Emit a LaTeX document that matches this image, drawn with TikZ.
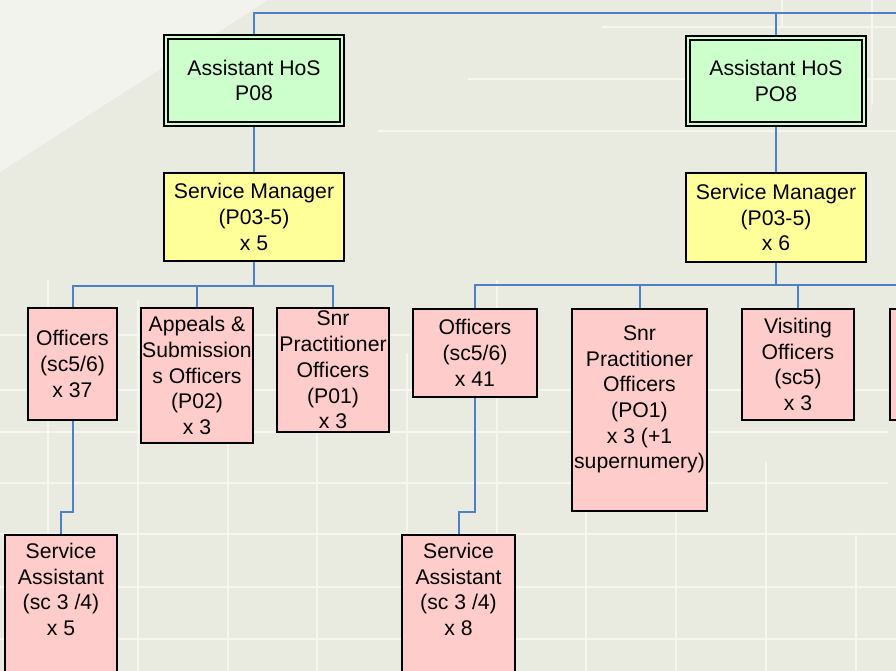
\documentclass[tikz,border=0pt]{standalone}
\usepackage{fontspec}
\setmainfont{Liberation Sans}
\pgfdeclarelayer{background}
\pgfsetlayers{background,main}
\definecolor{bgc}{HTML}{EAEBE0}
\definecolor{bglight}{HTML}{F2F3EC}
\definecolor{gridc}{HTML}{F5F6F0}
\definecolor{linkc}{HTML}{4F7FCB}
\definecolor{greenc}{HTML}{CCFFCC}
\definecolor{yellowc}{HTML}{FFFF99}
\definecolor{pinkc}{HTML}{FFCCCC}
\tikzset{
 box/.style={draw=black, line width=2pt, align=center, inner xsep=1pt, inner ysep=2pt,
   font=\fontsize{21.2}{25.7}\selectfont, text=black},
 hosbox/.style={box, fill=greenc, double=greenc, double distance=2.6pt, line width=2pt},
 mgrbox/.style={box, fill=yellowc},
 offbox/.style={box, fill=pinkc},
 link/.style={draw=linkc, line width=2pt},
 gridline/.style={draw=gridc, line width=1.5pt},
}
\begin{document}
\begin{tikzpicture}[x=1pt,y=-1pt]
\useasboundingbox (0,0) rectangle (896,671);
\clip (0,0) rectangle (896,671);

% ---------- boxes ----------
\node[hosbox, minimum width=176pt, minimum height=87pt] (ah1) at (254,80.5) {Assistant HoS\\P08};
\node[hosbox, minimum width=176pt, minimum height=86pt] (ah2) at (776,81) {Assistant HoS\\PO8};

\node[mgrbox, minimum width=180pt, minimum height=88pt] (sm1) at (254,217) {Service Manager\\(P03-5)\\x 5};
\node[mgrbox, minimum width=180pt, minimum height=89pt] (sm2) at (776,217.5) {Service Manager\\(P03-5)\\x 6};

\node[offbox, minimum width=89pt, minimum height=112pt] (o1) at (72.5,364) {Officers\\(sc5/6)\\x 37};
\node[offbox, minimum width=112pt, minimum height=135pt] (ap) at (197,375.5) {Appeals \&\\Submission\\s Officers\\(P02)\\x 3};
\node[offbox, minimum width=112pt, minimum height=124pt] (snr1) at (333,370) {Snr\\Practitioner\\Officers\\(P01)\\x 3};

\node[offbox, minimum width=124pt, minimum height=88pt] (o2) at (475,353) {Officers\\(sc5/6)\\x 41};
\node[offbox, minimum width=135pt, minimum height=202pt] (snr2) at (639.5,410) {Snr\\Practitioner\\Officers\\(PO1)\\x 3 (+1\\supernumery)\\~};
\node[offbox, minimum width=112pt, minimum height=111pt] (vis) at (798,364.5) {Visiting\\Officers\\(sc5)\\x 3};
\node[offbox, minimum width=112pt, minimum height=111pt] (part) at (946,364.5) {};

\node[offbox, minimum width=112pt, inner ysep=8pt, anchor=north] (sa1) at (61,534) {Service\\Assistant\\(sc 3 /4)\\x 5\\~\\~};
\node[offbox, minimum width=113pt, inner ysep=8pt, anchor=north] (sa2) at (458.5,534) {Service\\Assistant\\(sc 3 /4)\\x 8\\~\\~};

% ---------- background, grid and connectors ----------
\begin{pgfonlayer}{background}
\fill[bgc] (0,0) rectangle (896,671);
\fill[bglight] (0,0) -- (268,0) -- (0,172) -- cycle;
% faint grid
\foreach \y/\a/\b in {27/602/896, 79/468/896, 131/378/896, 335/0/410, 390/0/896,
   432/0/888, 483/0/888, 534/0/896, 587/0/896, 639/0/896}
  \draw[gridline] (\a,\y) -- (\b,\y);
\foreach \x/\a/\b in {48/280/671, 138/300/671, 228/420/671, 317/420/671, 407/353/671,
   497/280/671, 586/420/671, 676/420/671, 766/462/671, 856/535/671, 782/0/27, 872/0/105}
  \draw[gridline] (\x,\a) -- (\x,\b);

\coordinate (topR) at (900,13);
\coordinate (b1) at (254,286);
\coordinate (b2) at (776,285);
\coordinate (b2R) at (900,285);
\coordinate (j1) at (61,512);
\coordinate (j2) at (458.5,512);

\draw[link] (ah1.north) |- (topR);
\draw[link] (ah2.north) |- (topR);
\draw[link] (ah1.south) -- (sm1.north);
\draw[link] (ah2.south) -- (sm2.north);

\draw[link] (sm1.south) -- (b1);
\draw[link] (b1) -| (o1.north);
\draw[link] (b1) -| (ap.north);
\draw[link] (b1) -| (snr1.north);

\draw[link] (sm2.south) -- (b2);
\draw[link] (b2) -| (o2.north);
\draw[link] (b2) -| (snr2.north);
\draw[link] (b2) -| (vis.north);
\draw[link] (b2) -- (b2R);
\draw[link] (b2) -| (part.north);

\draw[link] (o1.south) |- (j1) -- (sa1.north);
\draw[link] (o2.south) |- (j2) -- (sa2.north);
\end{pgfonlayer}
\end{tikzpicture}
\end{document}
